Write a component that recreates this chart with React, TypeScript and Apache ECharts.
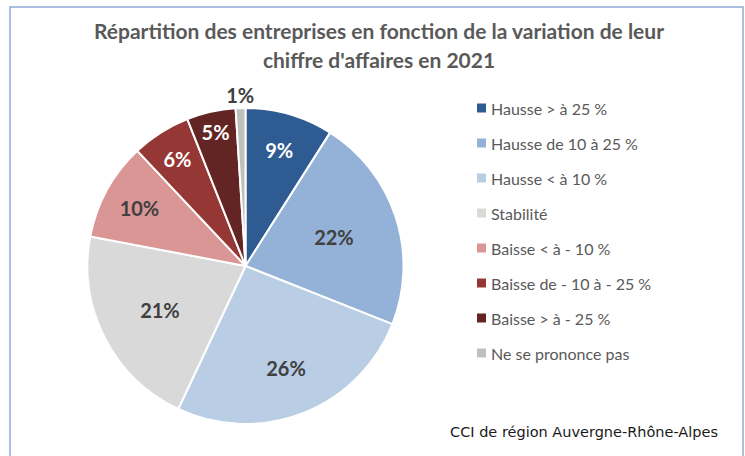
import React, { useEffect, useRef } from "react";
import * as echarts from "echarts";

const TITLE = "Répartition des entreprises en fonction de la variation de leur\nchiffre d'affaires en 2021";
const SOURCE = "CCI de région Auvergne-Rhône-Alpes";
const categories = [
  "Hausse > à 25 %",
  "Hausse de 10 à 25 %",
  "Hausse < à 10 %",
  "Stabilité",
  "Baisse < à - 10 %",
  "Baisse de - 10 à - 25 %",
  "Baisse > à - 25 %",
  "Ne se prononce pas",
];
const values = [9, 22, 26, 21, 10, 6, 5, 1];
const colors = ["#2f5b93", "#94b1d8", "#b9cde5", "#d9d9d9", "#da9694", "#953735", "#632523", "#bfbfbf"];
const labelColors = ["#ffffff", "#404040", "#404040", "#404040", "#404040", "#ffffff", "#ffffff", "#404040"];
// radial distance of each label from the pie centre (px)
const labelRadius = [121, 93, 110, 96, 121, 127, 137, 171];

const CX = 245.5;
const CY = 266;
const R = 158;

export default function App() {
  const ref = useRef<HTMLDivElement>(null);
  useEffect(() => {
    document.body.style.margin = "0";
    const chart = echarts.init(ref.current!, null, { renderer: "svg" });
    chart.setOption({
      animation: false,
      backgroundColor: "#ffffff",
      title: {
        text: TITLE,
        left: 374,
        top: 11,
        textAlign: "center",
        textStyle: {
          fontFamily: "Lato",
          fontSize: 21,
          fontWeight: "bold",
          color: "#595959",
          lineHeight: 29,
        },
      },
      legend: {
        orient: "vertical",
        left: 472,
        top: 94,
        icon: "rect",
        itemWidth: 9,
        itemHeight: 9,
        itemGap: 17,
        itemStyle: { borderWidth: 0 },
        data: categories,
        textStyle: {
          fontFamily: "Lato",
          fontSize: 16,
          color: "#595959",
          lineHeight: 18,
        },
      },
      graphic: [
        {
          type: "rect",
          shape: { x: 10, y: 7, width: 733, height: 470 },
          style: { fill: "none", stroke: "#8eaad6", lineWidth: 1.5 },
          silent: true,
        },
        {
          type: "text",
          right: 27,
          top: 424,
          style: {
            text: SOURCE,
            fontFamily: "DejaVu Sans",
            fontSize: 14.5,
            fill: "#1a1a1a",
          },
        },
      ],
      series: [
        {
          type: "pie",
          center: [CX, CY],
          radius: [0, R],
          startAngle: 90,
          clockwise: true,
          avoidLabelOverlap: false,
          itemStyle: { borderColor: "#ffffff", borderWidth: 2 },
          label: {
            show: true,
            position: "inside",
            formatter: "{c}%",
            fontFamily: "Lato",
            fontSize: 20,
            fontWeight: "bold",
          },
          labelLine: { show: false },
          labelLayout: (p: any) => {
            const lr = p.labelRect;
            const lx = lr.x + lr.width / 2;
            const ly = lr.y + lr.height / 2;
            const dx = lx - CX;
            const dy = ly - CY;
            const d = Math.hypot(dx, dy) || 1;
            const f = labelRadius[p.dataIndex] / d;
            return { x: CX + dx * f, y: CY + dy * f, align: "center", verticalAlign: "middle" };
          },
          data: categories.map((name, i) => ({
            name,
            value: values[i],
            itemStyle: { color: colors[i] },
            label: { color: labelColors[i] },
          })),
        },
      ],
    });
    return () => chart.dispose();
  }, []);
  return <div ref={ref} style={{ width: 745, height: 456 }} />;
}
